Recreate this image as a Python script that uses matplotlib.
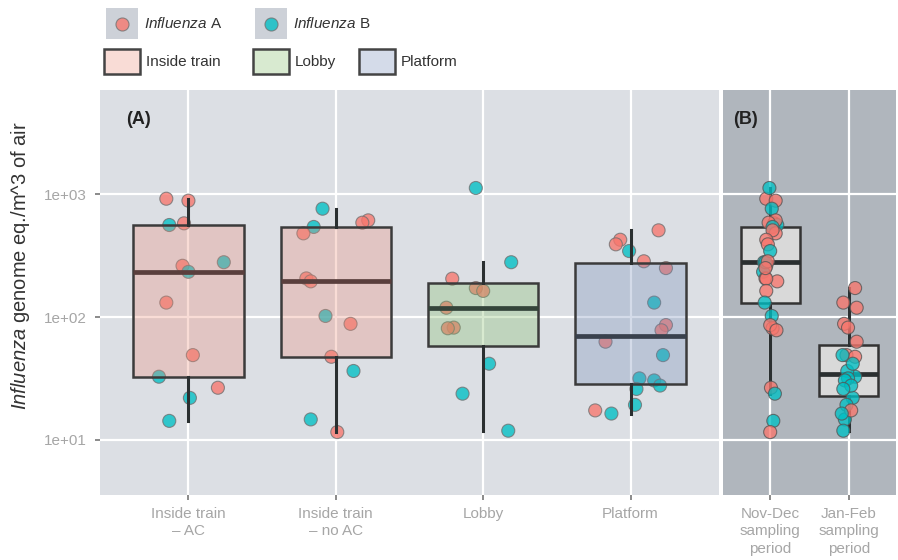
import numpy as np
import matplotlib.pyplot as plt
from matplotlib import cbook
from matplotlib.colors import to_rgba
from matplotlib.patches import Rectangle
from matplotlib.ticker import FixedLocator, NullLocator

plt.rcParams['font.family'] = ['Liberation Sans', 'DejaVu Sans']
plt.rcParams['mathtext.fontset'] = 'custom'
plt.rcParams['mathtext.rm'] = 'Liberation Sans'
plt.rcParams['mathtext.it'] = 'Liberation Sans:italic'

locations = ["Inside train\n\u2013 AC", "Inside train\n\u2013 no AC", "Lobby", "Platform"]
periods = ["Nov-Dec\nsampling\nperiod", "Jan-Feb\nsampling\nperiod"]
y_ticks = [10, 100, 1000]
y_tick_labels = ["1e+01", "1e+02", "1e+03"]

# genome eq. per m^3, virus type (A/B), sampling period (N = Nov-Dec, J = Jan-Feb)
train_ac = [916, 883, 578, 560, 279, 261, 233, 131, 49, 32.7, 26.6, 22, 14.3]
train_ac_type = "AAABBABAABABB"
train_ac_period = "NNNNNNNJJJNJN"

train_noac = [760, 611, 585, 540, 479, 206, 195, 102, 88, 47.5, 36.4, 14.7, 11.6]
train_noac_type = "BAABAAABAABBA"
train_noac_period = "NNNNNNNNJJJJN"

lobby = [1120, 279, 205, 172, 163, 119, 82, 81, 41.7, 23.8, 11.9]
lobby_type = "BBAAAAAABBB"
lobby_period = "NNNJNJJNJNJ"

platform = [507, 425, 390, 344, 284, 250, 131, 86, 78, 63, 49, 31.7, 30.5, 27.7, 26, 19.3, 17.4, 16.4]
platform_type = "AAABAABAAABBBBBBAB"
platform_period = "NNNNNNNNNJJJJJJJJJ"

# horizontal jitter of the points, by location (panel A) and by period (panel B)
jitter_a = [
    [-0.15, 0.00, -0.03, -0.13, 0.24, -0.04, 0.00, -0.15, 0.03, -0.20, 0.20, 0.01, -0.13],
    [-0.09, 0.22, 0.18, -0.15, -0.22, -0.20, -0.17, -0.07, 0.10, -0.03, 0.12, -0.17, 0.01],
    [-0.05, 0.19, -0.21, -0.05, 0.00, -0.25, -0.20, -0.24, 0.04, -0.14, 0.17],
    [0.19, -0.07, -0.10, -0.01, 0.09, 0.24, 0.16, 0.24, 0.21, -0.17, 0.22, 0.06, 0.16, 0.20,
     0.04, 0.03, -0.24, -0.13],
]
jitter_b = [
    [-0.05, 0.07, 0.05, 0.09, -0.08, -0.05, -0.09, -0.07, -0.03, 0.08, 0.01, 0.05, 0.04],
    [0.02, 0.07, -0.02, 0.03, 0.07, -0.06, 0.09, 0.02, -0.06, 0.08, -0.02, -0.05, 0.00],
    [-0.01, -0.06, -0.05, 0.08, -0.05, 0.10, -0.01, 0.03, 0.05, 0.06, -0.07],
    [0.03, -0.05, -0.03, 0.00, -0.03, -0.06, -0.07, 0.00, 0.08, 0.10, -0.08, -0.01, -0.05,
     0.03, -0.07, -0.03, 0.03, -0.09],
]

values = [train_ac, train_noac, lobby, platform]
types = [train_ac_type, train_noac_type, lobby_type, platform_type]
sample_periods = [train_ac_period, train_noac_period, lobby_period, platform_period]

virus_color = {'A': '#F8766D', 'B': '#00BFC4'}
box_color = ['#ED8C78', '#ED8C78', '#7FBB64', '#7189B7']
median_color = ['#5a3f3d', '#5a3f3d', '#34443a', '#39414d']
ylim = (3.57, 7015)


def log_stats(vals):
    # boxplot statistics on the log10 scale, as the axis is log
    st = cbook.boxplot_stats(np.log10(vals), whis=1.5)[0]
    for k in ('med', 'q1', 'q3', 'whislo', 'whishi', 'mean'):
        st[k] = 10 ** st[k]
    st['fliers'] = []
    return st


def style_axis(ax, bg, npos):
    ax.set_facecolor(bg)
    ax.set_yscale('log')
    ax.set_ylim(*ylim)
    ax.set_xlim(0.4, npos + 0.6)
    ax.yaxis.set_major_locator(FixedLocator(y_ticks))
    ax.yaxis.set_minor_locator(NullLocator())
    ax.set_xticks(range(1, npos + 1))
    ax.grid(True, color='white', lw=1.6)
    ax.set_axisbelow(True)
    for s in ax.spines.values():
        s.set_visible(False)
    ax.tick_params(axis='both', length=3.6, width=1.4, color='#8a8a8a',
                   labelcolor='#a6a6a6', labelsize=11)
    ax.tick_params(axis='x', pad=5)
    ax.tick_params(axis='y', pad=6)


fig = plt.figure(figsize=(8.98, 5.6), dpi=100)
W, H = 898, 560
ax_a = fig.add_axes([100 / W, 1 - 495 / H, 619 / W, 405 / H])
ax_b = fig.add_axes([723 / W, 1 - 495 / H, 173 / W, 405 / H])

# panel A: by location
style_axis(ax_a, '#dcdfe4', 4)
for i, (vals, tp, jit) in enumerate(zip(values, types, jitter_a)):
    xs = [i + 1 + j for j in jit]
    cols = [virus_color[t] for t in tp]
    ax_a.scatter(xs, vals, s=88, c=cols, alpha=0.78, edgecolors='#707070',
                 linewidths=0.8, zorder=2)
    bp = ax_a.bxp([log_stats(vals)], positions=[i + 1], widths=0.75, patch_artist=True,
                  showfliers=False, showcaps=False, manage_ticks=False,
                  boxprops=dict(facecolor=to_rgba(box_color[i], 0.3), edgecolor='#3b3b3b', lw=1.8),
                  whiskerprops=dict(color='#2a2f30', lw=2.2),
                  medianprops=dict(color=median_color[i], lw=3.4, solid_capstyle='butt'))
    for art in bp['boxes'] + bp['whiskers'] + bp['medians']:
        art.set_zorder(3)
ax_a.set_yticklabels(y_tick_labels)
ax_a.set_xticklabels(locations, linespacing=1.3)
ax_a.text(0.0614, 0.926, "(A)", transform=ax_a.transAxes, ha='center', va='center',
          fontsize=13, fontweight='bold', color='#222222')

# panel B: all locations pooled by sampling period
style_axis(ax_b, '#b0b6bd', 2)
ax_b.tick_params(axis='y', left=False, labelleft=False)
for k, code in enumerate("NJ"):
    vals, cols, xs = [], [], []
    for v_list, tp, per, jit in zip(values, types, sample_periods, jitter_b):
        for v, t, p, j in zip(v_list, tp, per, jit):
            if p == code:
                vals.append(v)
                cols.append(virus_color[t])
                xs.append(k + 1 + j)
    bp = ax_b.bxp([log_stats(vals)], positions=[k + 1], widths=0.75, patch_artist=True,
                  showfliers=False, showcaps=False, manage_ticks=False,
                  boxprops=dict(facecolor='#d9d9d9', edgecolor='#333333', lw=1.8),
                  whiskerprops=dict(color='#2a2f30', lw=2.2),
                  medianprops=dict(color='#2a2f30', lw=3.4, solid_capstyle='butt'))
    for art in bp['boxes'] + bp['whiskers'] + bp['medians']:
        art.set_zorder(2)
    ax_b.scatter(xs, vals, s=88, c=cols, alpha=0.78, edgecolors='#555555',
                 linewidths=0.8, zorder=3)
ax_b.set_xticklabels(periods, linespacing=1.3)
ax_b.text(0.13, 0.926, "(B)", transform=ax_b.transAxes, ha='center', va='center',
          fontsize=13, fontweight='bold', color='#222222')

fig.text(21 / W, 1 - 266 / H, r"$\mathit{Influenza}$ genome eq./m^3 of air", rotation=90,
         ha='center', va='center', fontsize=14.5, color='#333333')

# legend drawn in figure pixel coordinates
leg = fig.add_axes([0, 0, 1, 1], zorder=5)
leg.set_xlim(0, W)
leg.set_ylim(H, 0)
leg.axis('off')
for x0, t in [(106, 'A'), (255, 'B')]:
    leg.add_patch(Rectangle((x0, 8), 32, 31, facecolor='#cdd1d8', edgecolor='none'))
    leg.scatter([x0 + 16], [23.5], s=88, c=virus_color[t], alpha=0.78,
                edgecolors='#707070', linewidths=0.8)
    leg.text(x0 + 38, 23.5, r"$\mathit{Influenza}$ " + t, ha='left', va='center',
             fontsize=11, color='#333333')
for x0, name, col in [(104, "Inside train", box_color[0]), (253, "Lobby", box_color[2]),
                      (359, "Platform", box_color[3])]:
    leg.add_patch(Rectangle((x0, 49), 36, 25, facecolor=to_rgba(col, 0.3),
                            edgecolor='#444444', lw=1.8))
    leg.text(x0 + 42, 62, name, ha='left', va='center', fontsize=11, color='#333333')

fig.savefig("out.png", dpi=100)
